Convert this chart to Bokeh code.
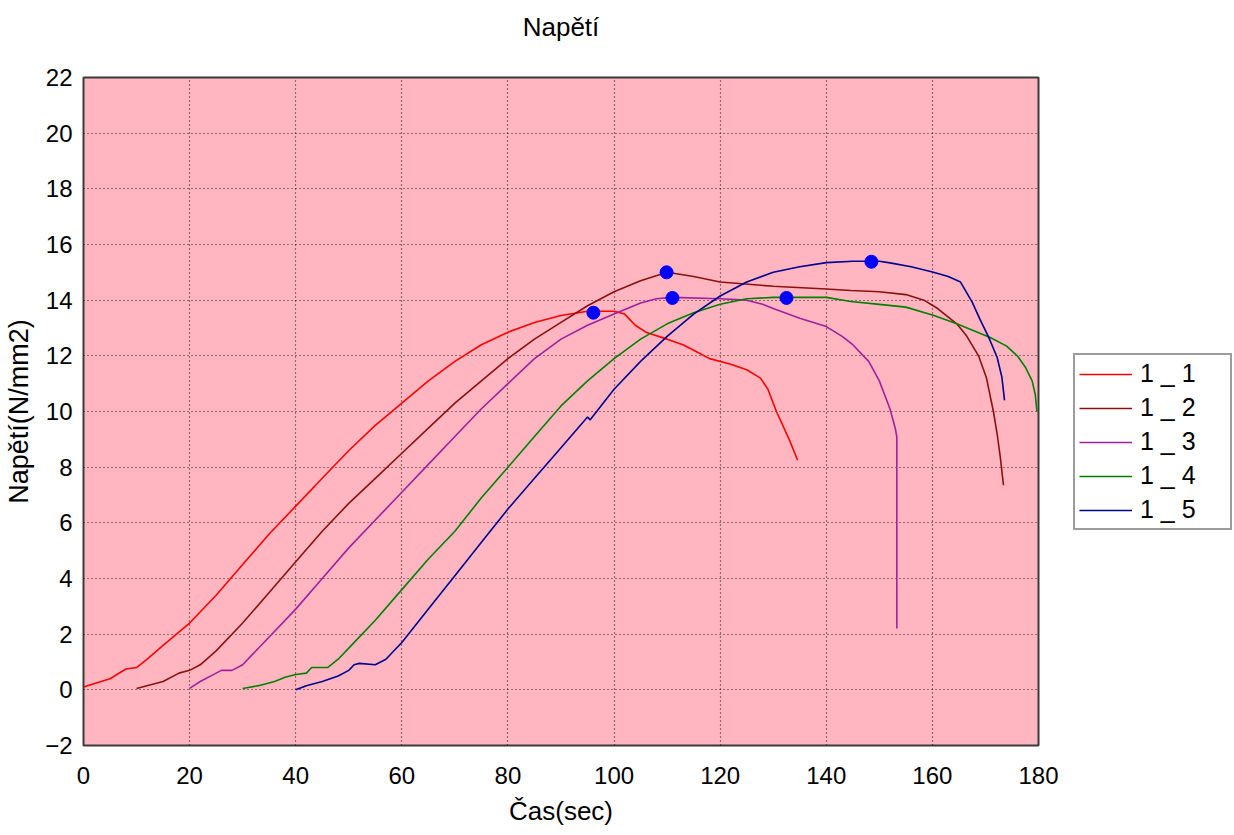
from bokeh.plotting import figure
from bokeh.models import Legend, LegendItem, FixedTicker, Range1d, Title
from bokeh.embed import file_html
from bokeh.resources import INLINE

# ---- data ----
t1 = [0, 5, 8, 10, 12, 15, 20, 25, 30, 35, 40, 45, 50, 55, 60, 65, 70, 75, 80, 85, 90, 95, 100, 102, 104, 106, 110, 113, 116, 118, 122, 125, 127.6, 129, 130.6, 131.8, 133, 134.6]
s1 = [0.1, 0.4, 0.75, 0.8, 1.1, 1.6, 2.4, 3.4, 4.5, 5.6, 6.6, 7.6, 8.6, 9.5, 10.3, 11.1, 11.8, 12.4, 12.85, 13.2, 13.45, 13.6, 13.6, 13.5, 13.1, 12.85, 12.6, 12.4, 12.1, 11.9, 11.7, 11.5, 11.2, 10.8, 10.0, 9.5, 9.0, 8.25]

t2 = [10, 15, 18, 20, 22, 25, 30, 35, 40, 45, 50, 55, 60, 65, 70, 75, 80, 85, 90, 95, 100, 105, 110, 115, 120, 130, 140, 144.6, 150, 155, 158.4, 161, 164.6, 166.5, 168.7, 170.2, 171.5, 172.2, 172.8, 173.4]
s2 = [0.05, 0.3, 0.6, 0.7, 0.9, 1.4, 2.4, 3.5, 4.6, 5.7, 6.7, 7.6, 8.5, 9.4, 10.3, 11.1, 11.9, 12.6, 13.2, 13.8, 14.3, 14.7, 15.0, 14.85, 14.65, 14.5, 14.4, 14.35, 14.3, 14.2, 14.0, 13.7, 13.15, 12.7, 12.0, 11.2, 10.0, 9.2, 8.36, 7.35]

t3 = [20, 22, 25, 26, 28, 30, 32, 35, 40, 45, 50, 55, 60, 65, 70, 75, 80, 85, 90, 95, 100, 105, 108, 111, 120, 125, 128, 130, 135, 140, 143, 145, 148, 150, 152, 153, 153.3, 153.3]
s3 = [0.05, 0.3, 0.6, 0.7, 0.7, 0.9, 1.3, 1.9, 2.9, 4.0, 5.1, 6.1, 7.1, 8.1, 9.1, 10.1, 11.0, 11.9, 12.6, 13.1, 13.5, 13.9, 14.05, 14.1, 14.05, 14.0, 13.85, 13.7, 13.35, 13.05, 12.7, 12.4, 11.8, 11.1, 10.1, 9.4, 9.08, 2.2]

t4 = [30, 33, 36, 38, 40, 42, 43, 46, 48, 50, 55, 60, 65, 70, 75, 80, 85, 90, 95, 100, 105, 110, 115, 120, 125, 130, 140, 144.6, 150, 155, 160.3, 164.6, 171, 174, 176, 177.5, 178.8, 179.4, 179.7]
s4 = [0.05, 0.15, 0.3, 0.45, 0.55, 0.6, 0.8, 0.8, 1.1, 1.5, 2.5, 3.6, 4.7, 5.7, 6.9, 8.0, 9.1, 10.2, 11.1, 11.9, 12.6, 13.15, 13.55, 13.85, 14.05, 14.1, 14.1, 13.95, 13.85, 13.75, 13.45, 13.15, 12.65, 12.35, 12.0, 11.6, 11.1, 10.6, 10.0]

t5 = [40, 42, 45, 48, 50, 51, 52, 55, 57, 60, 65, 70, 75, 80, 85, 90, 95, 95.5, 100, 105, 110, 115, 120, 125, 130, 135, 140, 145, 150, 152, 156, 160.2, 163, 165.3, 167.5, 169, 170.6, 172.2, 173.1, 173.6]
s5 = [0.0, 0.15, 0.3, 0.5, 0.7, 0.9, 0.95, 0.9, 1.1, 1.7, 2.9, 4.1, 5.3, 6.5, 7.6, 8.7, 9.8, 9.7, 10.8, 11.8, 12.7, 13.5, 14.15, 14.65, 15.0, 15.2, 15.35, 15.4, 15.4, 15.34, 15.2, 15.0, 14.85, 14.65, 13.93, 13.3, 12.67, 11.95, 11.23, 10.4]

peak_t = [96.1, 109.9, 111.0, 132.5, 148.5]
peak_s = [13.55, 15.0, 14.08, 14.08, 15.38]

series_names = ["1 _ 1", "1 _ 2", "1 _ 3", "1 _ 4", "1 _ 5"]
series_colors = ["#ff0000", "#8b1010", "#a020a0", "#008000", "#000090"]

x_ticks = [0, 20, 40, 60, 80, 100, 120, 140, 160, 180]
y_ticks = [-2, 0, 2, 4, 6, 8, 10, 12, 14, 16, 18, 20, 22]

FONT = "Liberation Sans"
FS = "24px"

p = figure(frame_width=955, frame_height=668, output_backend="svg", toolbar_location=None,
           x_range=Range1d(0, 180), y_range=Range1d(-2, 22),
           x_axis_label="Čas(sec)", y_axis_label="Napětí(N/mm2)",
           min_border_left=83, min_border_top=77, min_border_bottom=86, min_border_right=0)
p.title = None

# spacer (closest to frame), then the visible title above it
spacer = Title(text=" ", text_font_size="1px", standoff=33)
p.add_layout(spacer, "above")
main_title = Title(text="Napětí", align="center", text_font=FONT, text_font_size="26px",
                   text_font_style="normal", text_color="black", standoff=0)
p.add_layout(main_title, "above")

p.background_fill_color = "#ffb6c1"
p.border_fill_color = "white"
p.outline_line_color = "#3a3a3a"
p.outline_line_width = 2

for ax in (p.xaxis[0], p.yaxis[0]):
    ax.axis_line_color = None
    ax.major_tick_line_color = None
    ax.minor_tick_line_color = None
    ax.major_tick_out = 0
    ax.major_tick_in = 0
    ax.major_label_text_font = FONT
    ax.major_label_text_font_size = FS
    ax.major_label_text_color = "black"
    ax.axis_label_text_font = FONT
    ax.axis_label_text_font_style = "normal"
    ax.axis_label_text_color = "black"

p.xaxis[0].axis_label_text_font_size = "26px"
p.yaxis[0].axis_label_text_font_size = "27px"
p.xaxis[0].major_label_standoff = 21
p.yaxis[0].major_label_standoff = 11
p.xaxis[0].ticker = FixedTicker(ticks=x_ticks)
p.yaxis[0].ticker = FixedTicker(ticks=y_ticks)
p.xaxis[0].axis_label_standoff = 9
p.yaxis[0].axis_label_standoff = 8

p.xgrid[0].ticker = FixedTicker(ticks=x_ticks[1:-1])
p.ygrid[0].ticker = FixedTicker(ticks=y_ticks[1:-1])
for g in (p.xgrid[0], p.ygrid[0]):
    g.grid_line_color = "black"
    g.grid_line_dash = "1 3"
    g.grid_line_width = 1.2
    g.grid_line_alpha = 0.85

all_t = [t1, t2, t3, t4, t5]
all_s = [s1, s2, s3, s4, s5]
items = []
for t, s, name, c in zip(all_t, all_s, series_names, series_colors):
    r = p.line(t, s, line_color=c, line_width=1.6)
    items.append(LegendItem(label=name, renderers=[r]))

p.scatter(peak_t, peak_s, size=13, fill_color="#0000ff", line_color="#0000ff")

legend = Legend(items=items, location=(35, 215), orientation="vertical")
legend.label_text_font = FONT
legend.label_text_font_size = "25px"
legend.label_text_color = "black"
legend.border_line_color = "#3a3a3a"
legend.border_line_width = 2
legend.background_fill_color = "white"
legend.background_fill_alpha = 1.0
legend.glyph_width = 53
legend.glyph_height = 28
legend.label_height = 28
legend.spacing = 5
legend.padding = 4
legend.margin = 0
legend.label_standoff = 8
legend.label_width = 86
p.add_layout(legend, "right")

open("out.html", "w").write(file_html(p, INLINE))
